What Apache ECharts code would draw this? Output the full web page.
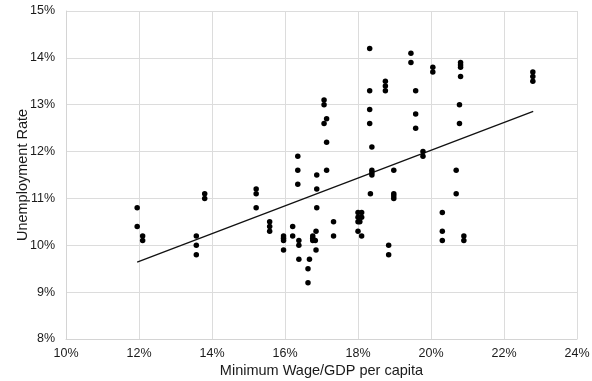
<!DOCTYPE html>
<html>
<head>
<meta charset="utf-8">
<script src="https://cdn.jsdelivr.net/npm/echarts@6/dist/echarts.min.js"></script>
<style>html,body{margin:0;padding:0;background:#fff}#c{width:592px;height:381px}</style>
</head>
<body>
<div id="c"></div>
<script>
// Minimum wage / GDP per capita (%)
const minWageGdp = [
  11.95,11.95,12.1,12.1,
  13.57,13.57,13.57,
  13.8,13.8,
  15.21,15.21,15.21,
  15.58,15.58,15.58,
  15.96,15.96,15.96,15.96,
  16.21,16.21,
  16.35,16.35,16.35,
  16.38,16.38,16.38,
  16.63,16.63,16.67,
  16.76,16.76,16.76,16.83,16.85,16.85,
  16.87,16.87,16.87,
  17.07,17.07,17.14,17.07,17.14,17.14,
  17.33,17.33,
  18.0,18.1,18.0,18.1,18.0,18.05,18.0,18.1,
  18.32,18.32,18.32,18.32,18.38,18.38,18.38,18.38,18.34,
  18.75,18.75,18.75,
  18.84,18.84,
  18.98,18.98,18.98,18.98,
  19.45,19.45,
  19.58,19.58,19.58,
  19.78,19.78,
  20.05,20.05,
  20.81,20.81,20.81,20.81,20.78,20.78,
  20.69,20.69,
  20.31,20.31,20.31,
  20.9,20.9,
  22.79,22.79,22.79
];
// Unemployment rate (%)
const unemploymentRate = [
  10.8,10.4,10.2,10.1,
  10.2,10.0,9.8,
  11.1,11.0,
  11.2,11.1,10.8,
  10.5,10.4,10.3,
  10.2,10.15,10.1,9.9,
  10.4,10.2,
  11.9,11.6,11.3,
  10.1,10.0,9.7,
  9.5,9.2,9.7,
  10.2,10.15,10.1,10.1,10.3,9.9,
  11.5,11.2,10.8,
  13.1,13.0,12.7,12.6,12.2,11.6,
  10.5,10.2,
  10.7,10.7,10.6,10.6,10.5,10.5,10.3,10.2,
  14.2,13.3,12.9,12.6,12.1,11.6,11.55,11.5,11.1,
  13.5,13.4,13.3,
  10.0,9.8,
  11.6,11.1,11.05,11.0,
  14.1,13.9,
  13.3,12.8,12.5,
  12.0,11.9,
  13.8,13.7,
  13.9,13.85,13.8,13.6,13.0,12.6,
  11.6,11.1,
  10.7,10.3,10.1,
  10.2,10.1,
  13.7,13.6,13.5
];
// Trend line endpoints
const trendX = [11.95, 22.8];
const trendY = [9.64, 12.86];

const points = minWageGdp.map((x, i) => [x, unemploymentRate[i]]);
const trend = trendX.map((x, i) => [x, trendY[i]]);

const chart = echarts.init(document.getElementById('c'), null, {renderer: 'canvas'});
const font = 'Liberation Sans, Arial, Helvetica, sans-serif';
chart.setOption({
  animation: false,
  backgroundColor: '#fff',
  grid: {left: 66, right: 15, top: 11, bottom: 42, containLabel: false, outerBoundsMode: 'none'},
  xAxis: {
    type: 'value', min: 10, max: 24, interval: 2,
    name: 'Minimum Wage/GDP per capita', nameLocation: 'middle', nameGap: 24,
    nameMoveOverlap: false,
    nameTextStyle: {fontFamily: font, fontSize: 14.5, color: '#1a1a1a'},
    axisLine: {show: true, lineStyle: {color: '#d4d4d4', width: 1}},
    axisTick: {show: false},
    axisLabel: {formatter: '{value}%', fontFamily: font, fontSize: 12.5, color: '#1a1a1a', margin: 8},
    splitLine: {show: true, lineStyle: {color: '#dcdcdc', width: 1}}
  },
  yAxis: {
    type: 'value', min: 8, max: 15, interval: 1,
    name: 'Unemployment Rate', nameLocation: 'middle', nameGap: 36,
    nameMoveOverlap: false,
    nameTextStyle: {fontFamily: font, fontSize: 14.5, color: '#1a1a1a'},
    axisLine: {show: true, lineStyle: {color: '#d4d4d4', width: 1}},
    axisTick: {show: false},
    axisLabel: {formatter: '{value}%', fontFamily: font, fontSize: 12.5, color: '#1a1a1a', margin: 11},
    splitLine: {show: true, lineStyle: {color: '#dcdcdc', width: 1}}
  },
  series: [
    {
      type: 'scatter', data: points, symbol: 'circle', symbolSize: 5.5,
      itemStyle: {color: '#000', opacity: 1}, z: 3
    },
    {
      type: 'line', data: trend, showSymbol: false, symbol: 'none',
      lineStyle: {color: '#111', width: 1.3}, z: 2
    }
  ]
});
</script>
</body>
</html>
